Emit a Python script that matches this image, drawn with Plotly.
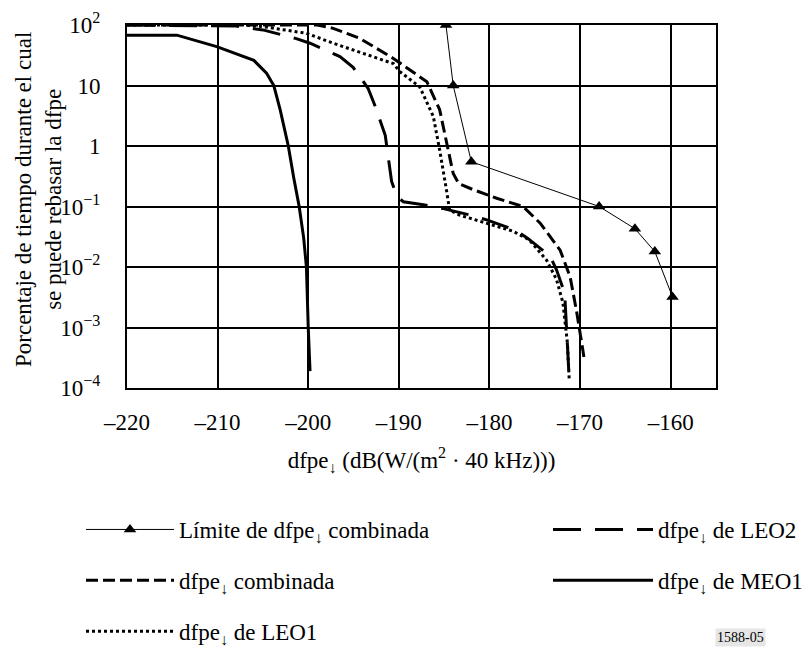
import plotly.graph_objects as go

# ---- data ----
limit_x = [-184.8, -184.0, -182.0, -167.9, -163.95, -161.75, -159.8]
limit_y = [100, 10, 0.55, 0.1, 0.043, 0.018, 0.0032]

comb_x = [-220, -199, -197.25, -194.3, -190.6, -186.9, -185.5, -184.7, -184.0, -183.4,
          -181.8, -179.2, -176.3, -174.4, -172.2, -171.1, -170.4, -169.7, -169.5]
comb_y = [100, 100, 88, 60, 28, 11.5, 4, 1.1, 0.35, 0.24,
          0.19, 0.137, 0.1, 0.053, 0.019, 0.0069, 0.0019, 0.00043, 0.00027]

leo1_x = [-220, -207, -205, -200.2, -197.25, -193.5, -190.6, -189.9, -187.7, -186.2, -185.5,
          -184.7, -184.4, -183.3, -180.3, -177.4, -175.6, -173.7, -172.6, -171.9, -171.4, -171.2]
leo1_y = [100, 100, 94, 73, 50, 32, 23, 17, 9.5, 3.1, 0.87,
          0.17, 0.087, 0.072, 0.052, 0.039, 0.028, 0.013, 0.0062, 0.0026, 0.00056, 0.00014]

leo2_x = [-220, -208, -205, -201.4, -199.8, -196.5, -195.05, -193.4, -192.6, -191.5, -190.8,
          -190.2, -189.5, -187.3, -185.2, -182.1, -180.3, -177.2, -175.8, -173.3, -172.6,
          -171.7, -171.35, -171.2]
leo2_y = [100, 96, 83, 60, 50, 30, 20, 9, 4.5, 1.5, 0.26,
          0.145, 0.12, 0.107, 0.093, 0.072, 0.06, 0.041, 0.030, 0.015, 0.009,
          0.0037, 0.00038, 0.00014]

meo1_x = [-220, -214.5, -210.1, -206, -204.6, -203.8, -203.1, -202.2, -201.6, -201.0,
          -200.5, -200.2, -200.0, -199.8]
meo1_y = [68, 68, 44, 26, 16, 10, 4, 1, 0.3, 0.1, 0.03, 0.01, 0.001, 0.00019]

x_ticks = [-220, -210, -200, -190, -180, -170, -160]
x_ticktext = ["–220", "–210", "–200", "–190", "–180", "–170", "–160"]
y_ticks = [1e-4, 1e-3, 1e-2, 1e-1, 1, 10, 100]
y_ticktext = ["10<sup>−4</sup>", "10<sup>−3</sup>", "10<sup>−2</sup>", "10<sup>−1</sup>",
              "1", "10", "10<sup>2</sup>"]

names = {
    "limit": "Límite de dfpe<sub>↓</sub> combinada",
    "comb": "dfpe<sub>↓</sub> combinada",
    "leo1": "dfpe<sub>↓</sub> de LEO1",
    "leo2": "dfpe<sub>↓</sub> de LEO2",
    "meo1": "dfpe<sub>↓</sub> de MEO1",
}

FONT = "Liberation Serif, DejaVu Serif"
FS = 23

fig = go.Figure()
fig.add_trace(go.Scatter(x=meo1_x, y=meo1_y, mode="lines", name=names["meo1"],
                         line=dict(color="black", width=3), legend="legend2",
                         legendgroup="meo1", legendrank=2))
fig.add_trace(go.Scatter(x=leo2_x, y=leo2_y, mode="lines", name=names["leo2"],
                         line=dict(color="black", width=3, dash="28px,14px"), legend="legend2",
                         legendgroup="leo2", legendrank=1))
fig.add_trace(go.Scatter(x=leo1_x, y=leo1_y, mode="lines", name=names["leo1"],
                         line=dict(color="black", width=3, dash="3px,3px"),
                         legendgroup="leo1", legendrank=3))
fig.add_trace(go.Scatter(x=comb_x, y=comb_y, mode="lines", name=names["comb"],
                         line=dict(color="black", width=3, dash="12px,5px"),
                         legendgroup="comb", legendrank=2))
fig.add_trace(go.Scatter(x=limit_x, y=limit_y, mode="lines+markers", name=names["limit"],
                         line=dict(color="black", width=1),
                         marker=dict(symbol="triangle-up", size=11, color="black"),
                         legendgroup="limit", legendrank=1))

W, H = 811, 650
L, R, T, B = 127, 95, 25, 262
pw, ph = W - L - R, H - T - B

fig.update_layout(
    width=W, height=H,
    margin=dict(l=L, r=R, t=T, b=B, autoexpand=False),
    paper_bgcolor="white", plot_bgcolor="white",
    font=dict(family=FONT, size=FS, color="black"),
    showlegend=True,
    legend=dict(x=(81 - L) / pw, y=(T + ph - 508) / ph, xanchor="left", yanchor="top",
                orientation="v", tracegroupgap=18, itemwidth=88,
                font=dict(family=FONT, size=FS), bgcolor="rgba(0,0,0,0)",
                traceorder="grouped"),
    legend2=dict(x=(548 - L) / pw, y=(T + ph - 508) / ph, xanchor="left", yanchor="top",
                 orientation="v", tracegroupgap=18, itemwidth=100,
                 font=dict(family=FONT, size=FS), bgcolor="rgba(0,0,0,0)",
                 traceorder="grouped"),
    xaxis=dict(range=[-220, -155], tickvals=x_ticks, ticktext=x_ticktext,
               showgrid=True, gridcolor="black", gridwidth=2,
               showline=True, linecolor="black", linewidth=2, mirror=True,
               ticks="", zeroline=False, ticklabelstandoff=12,
               tickfont=dict(family=FONT, size=FS),
               title=dict(text="dfpe<sub>↓</sub> (dB(W/(m<sup>2</sup> · 40 kHz)))",
                          font=dict(family=FONT, size=FS), standoff=18)),
    yaxis=dict(type="log", range=[-4, 2], tickvals=y_ticks, ticktext=y_ticktext,
               showgrid=True, gridcolor="black", gridwidth=2,
               showline=True, linecolor="black", linewidth=2, mirror=True,
               ticks="", zeroline=False, ticklabelstandoff=20,
               tickfont=dict(family=FONT, size=FS)),
    annotations=[
        dict(text="Porcentaje de tiempo durante el cual<br>se puede rebasar la dfpe",
             xref="paper", yref="paper", x=(38 - L) / pw, y=(T + ph - 200) / ph,
             xanchor="center", yanchor="middle", textangle=-90, showarrow=False,
             font=dict(family=FONT, size=FS)),
        dict(text="1588-05", xref="paper", yref="paper", x=(740 - L) / pw,
             y=(T + ph - 637) / ph, xanchor="center", yanchor="middle", showarrow=False,
             font=dict(family=FONT, size=14), bgcolor="#e6e6e6"),
    ],
)

fig.write_html("out.html")
